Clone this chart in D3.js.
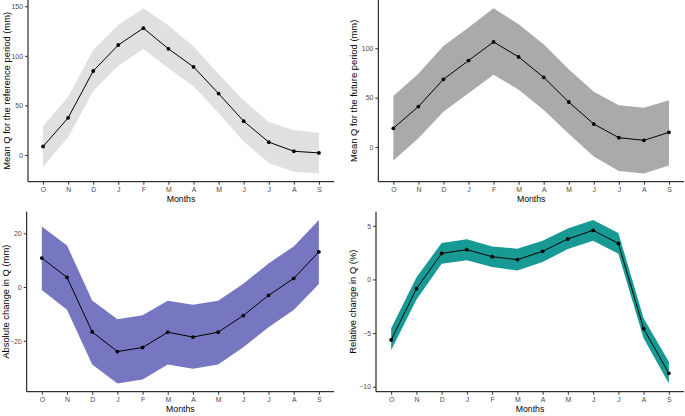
<!DOCTYPE html>
<html><head><meta charset="utf-8">
<script src="https://cdn.jsdelivr.net/npm/d3@7"></script>
<style>body{margin:0;background:#fff}svg{display:block}</style>
</head><body>
<svg id="c" width="685" height="416"></svg>
<script>
const months = ["O","N","D","J","F","M","A","M","J","J","A","S"];

const refMean  = [8.5,37.4,84.7,110.9,127.9,107.1,88.8,61.9,34,12.9,3.7,2];
const refUpper = [29.3,58.5,106,131,148,130.6,109.5,81.6,55,33.3,24.8,22.4];
const refLower = [-11.9,17.7,64.6,90,106.8,87.4,69.4,42.2,13.6,-8.2,-17,-18.7];

const futMean  = [19,41,68.6,87.5,106.4,91.2,70.6,45.6,23.3,9.5,6.8,14.9];
const futUpper = [51.7,74.3,102.4,121,140.5,124.3,104,78.7,56,42.2,39.9,47.3];
const futLower = [-13.5,8.8,35.8,54.4,73.3,58.1,37.5,13.5,-9.5,-24.3,-26.7,-18.6];

const absMean  = [10.8,3.6,-16.7,-24,-22.5,-16.8,-18.6,-16.8,-10.6,-3.1,3.2,13.1];
const absUpper = [22.5,15.5,-5,-12,-10.5,-5.1,-6.6,-5.1,1.2,8.8,15.1,25];
const absLower = [-1.1,-8.4,-28.8,-35.9,-34.4,-28.8,-30.4,-28.8,-22.4,-15,-8.5,1.1];

const relMean  = [-5.64,-0.87,2.43,2.77,2.12,1.84,2.62,3.77,4.58,3.36,-4.58,-8.75];
const relUpper = [-4.55,0.19,3.4,3.74,3.08,2.87,3.61,4.74,5.55,4.33,-3.61,-7.66];
const relLower = [-6.6,-1.9,1.46,1.78,1.15,0.84,1.62,2.83,3.61,2.4,-5.48,-9.7];

const yTicks1 = [0,50,100,150];
const yTicks2 = [0,50,100];
const yTicks3 = [-20,0,20];
const yTicks4 = [-10,-5,0,5];

const yTitles = ["Mean Q for the reference period (mm)","Mean Q for the future  period (mm)","Absolute change in Q (mm)","Relative change in Q (%)"];
const fills = ["#e0e0e0","#aaaaaa","#7777c1","#179a93"];

const panels = [
  {mean:refMean, up:refUpper, lo:refLower, ticks:yTicks1, title:yTitles[0], fill:fills[0], x0:28, x1:334, y0:0, y1:181.7, tx:10},
  {mean:futMean, up:futUpper, lo:futLower, ticks:yTicks2, title:yTitles[1], fill:fills[1], x0:378.3, x1:684, y0:0, y1:181.7, tx:357},
  {mean:absMean, up:absUpper, lo:absLower, ticks:yTicks3, title:yTitles[2], fill:fills[2], x0:26.7, x1:334, y0:211.7, y1:391.7, tx:8.5},
  {mean:relMean, up:relUpper, lo:relLower, ticks:yTicks4, title:yTitles[3], fill:fills[3], x0:376, x1:684, y0:211.7, y1:391.7, tx:356}
];

const svg = d3.select("#c");
const font = "'Liberation Sans', Arial, sans-serif";

panels.forEach(p => {
  const idx = d3.range(months.length);
  const x = d3.scaleLinear().domain([-0.6, months.length - 1 + 0.6]).range([p.x0, p.x1]);
  const lo = d3.min(p.lo), hi = d3.max(p.up), ex = (hi - lo) * 0.05;
  const y = d3.scaleLinear().domain([lo - ex, hi + ex]).range([p.y1, p.y0]);
  const g = svg.append("g");

  g.append("path").datum(idx)
    .attr("fill", p.fill)
    .attr("d", d3.area().x(i => x(i)).y0(i => y(p.lo[i])).y1(i => y(p.up[i])));

  g.append("path").datum(idx)
    .attr("fill", "none").attr("stroke", "#000").attr("stroke-width", 1)
    .attr("d", d3.line().x(i => x(i)).y(i => y(p.mean[i])));

  g.selectAll("circle.pt").data(idx).enter().append("circle")
    .attr("cx", i => x(i)).attr("cy", i => y(p.mean[i])).attr("r", 1.9).attr("fill", "#000");

  const xa = g.append("g").attr("transform", `translate(0,${p.y1})`)
    .call(d3.axisBottom(x).tickValues(idx).tickFormat(i => months[i]).tickSize(3).tickPadding(2));
  xa.select(".domain").attr("d", `M${p.x0},0H${p.x1}`).attr("stroke", "#000").attr("stroke-width", 1);
  xa.selectAll(".tick line").attr("stroke", "#333");
  xa.selectAll("text").attr("fill", "#4d4d4d").style("font-family", font).style("font-size", "6.9px");

  const ya = g.append("g").attr("transform", `translate(${p.x0},0)`)
    .call(d3.axisLeft(y).tickValues(p.ticks).tickSize(3).tickPadding(2));
  ya.select(".domain").attr("d", `M0,${p.y0}V${p.y1}`).attr("stroke", "#000").attr("stroke-width", 1);
  ya.selectAll(".tick line").attr("stroke", "#333");
  ya.selectAll("text").attr("fill", "#4d4d4d").style("font-family", font).style("font-size", "6.9px");

  g.append("text").attr("x", (p.x0 + p.x1) / 2).attr("y", p.y1 + 20.5)
    .attr("text-anchor", "middle").style("font-family", font).style("font-size", "8.7px").attr("fill", "#000")
    .text("Months");

  g.append("text").attr("transform", `translate(${p.tx},${(p.y0 + p.y1) / 2}) rotate(-90)`)
    .attr("text-anchor", "middle").style("font-family", font).style("font-size", "9.4px").attr("fill", "#000")
    .text(p.title);
});
</script>
</body></html>
